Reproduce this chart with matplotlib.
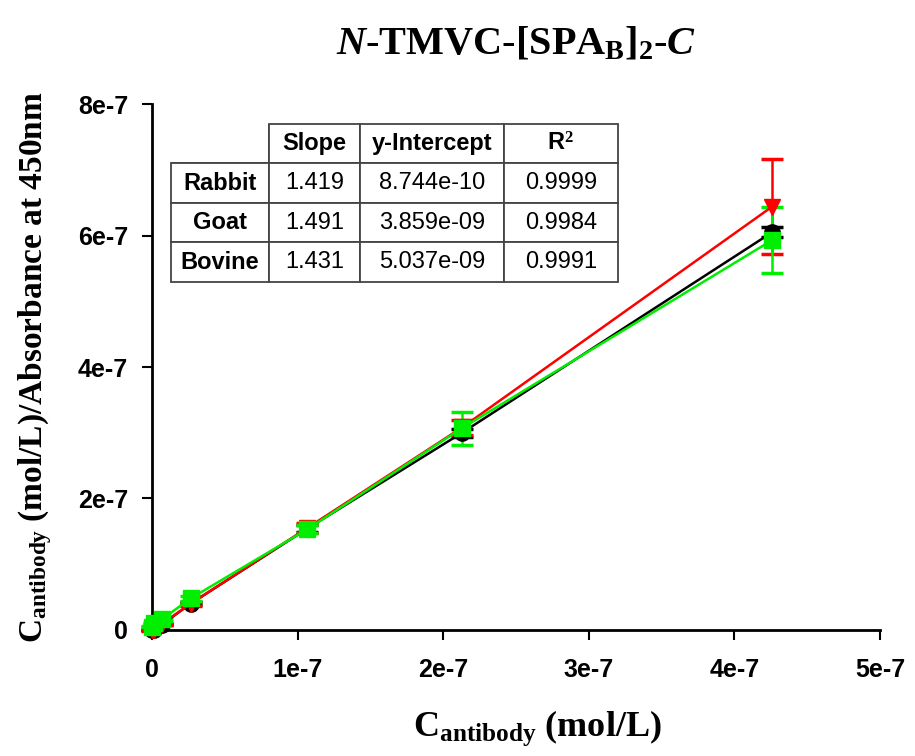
import numpy as np
import matplotlib
matplotlib.use("Agg")
from matplotlib import pyplot as plt

plt.rcParams["mathtext.fontset"] = "custom"
plt.rcParams["mathtext.rm"] = "Liberation Serif:bold"
plt.rcParams["mathtext.it"] = "Liberation Serif:italic:bold"
plt.rcParams["mathtext.bf"] = "Liberation Serif:bold"

# concentrations (mol/L)
conc = [0.0, 1.66e-9, 6.66e-9, 2.66e-8, 1.066e-7, 2.13e-7, 4.26e-7]
rabbit = [0.0, 0.6e-9, 0.9e-8, 0.40e-7, 1.55e-7, 3.08e-7, 6.44e-7]
rabbit_err = [0.1e-8, 0.1e-8, 0.2e-8, 0.3e-8, 0.8e-8, 1.2e-8, 0.72e-7]
goat = [0.0, 0.5e-9, 0.8e-8, 0.40e-7, 1.54e-7, 3.0e-7, 6.05e-7]
goat_err = [0.05e-8, 0.05e-8, 0.1e-8, 0.2e-8, 0.5e-8, 0.6e-8, 0.8e-8]
bovine = [0.5e-8, 1.0e-8, 1.6e-8, 0.48e-7, 1.53e-7, 3.07e-7, 5.93e-7]
bovine_err = [0.1e-8, 0.1e-8, 0.2e-8, 0.4e-8, 0.6e-8, 0.25e-7, 0.5e-7]

col_labels = ["Slope", "y-Intercept", "R$^2$"]
row_labels = ["Rabbit", "Goat", "Bovine"]
slopes = ["1.419", "1.491", "1.431"]
intercepts = ["8.744e-10", "3.859e-09", "5.037e-09"]
r2 = ["0.9999", "0.9984", "0.9991"]

xticks = [0, 1e-7, 2e-7, 3e-7, 4e-7, 5e-7]
xticklabels = ["0", "1e-7", "2e-7", "3e-7", "4e-7", "5e-7"]
yticks = [0, 2e-7, 4e-7, 6e-7, 8e-7]
yticklabels = ["0", "2e-7", "4e-7", "6e-7", "8e-7"]

fig = plt.figure(figsize=(9.15, 7.56), dpi=100)
ax = fig.add_axes([0.166, 0.1667, 0.7957, 0.6957])

series = [
    (goat, goat_err, "black", "o"),
    (rabbit, rabbit_err, "#ff0000", "v"),
    (bovine, bovine_err, "#00ee00", "s"),
]
for vals, err, color, marker in series:
    ax.errorbar(conc, vals, yerr=err, color=color, marker=marker, markersize=11,
                linewidth=1.8, elinewidth=1.8, capsize=8, capthick=2.5,
                clip_on=False, zorder=3)

ax.set_xlim(0, 5e-7)
ax.set_ylim(0, 8e-7)
ax.set_xticks(xticks)
ax.set_xticklabels(xticklabels, fontfamily="Liberation Sans",
                   fontweight="bold", fontsize=18)
ax.set_yticks(yticks)
ax.set_yticklabels(yticklabels, fontfamily="Liberation Sans",
                   fontweight="bold", fontsize=18)
ax.tick_params(direction="out", length=7, width=1.5, pad=13)
ax.tick_params(axis="y", pad=10)
for s in ["top", "right"]:
    ax.spines[s].set_visible(False)
for s in ["left", "bottom"]:
    ax.spines[s].set_linewidth(2)

ax.set_xlabel(r"C$_{\mathrm{antibody}}$ (mol/L)", fontfamily="Liberation Serif",
              fontweight="bold", fontsize=26)
ax.xaxis.set_label_coords(0.53, -0.15)
ax.xaxis.label.set_verticalalignment("top")
ax.set_ylabel(r"C$_{\mathrm{antibody}}$ (mol/L)/Absorbance at 450nm",
              fontfamily="Liberation Serif", fontweight="bold", fontsize=24)
ax.yaxis.set_label_coords(-0.135, 0.5)
ax.set_title(r"$\mathit{N}$-TMVC-[SPA$_\mathrm{B}$]$_2$-$\mathit{C}$",
             fontfamily="Liberation Serif", fontweight="bold", fontsize=29,
             pad=36)

cells = [[s, i, r] for s, i, r in zip(slopes, intercepts, r2)]
table = ax.table(cellText=[["", *col_labels]] + [[n, *c] for n, c in zip(row_labels, cells)],
                 cellLoc="center", bbox=[0.026, 0.662, 0.614, 0.30],
                 colWidths=[98, 91, 144, 114])
table.auto_set_font_size(False)
for (r, c), cell in table.get_celld().items():
    cell.set_edgecolor("#444444")
    cell.set_linewidth(1.3)
    txt = cell.get_text()
    txt.set_fontfamily("Liberation Sans")
    txt.set_fontsize(17)
    if r == 0 or c == 0:
        txt.set_fontweight("bold")
    if r == 0 and c == 0:
        cell.visible_edges = "BR"

fig.savefig("out.png", dpi=100)
